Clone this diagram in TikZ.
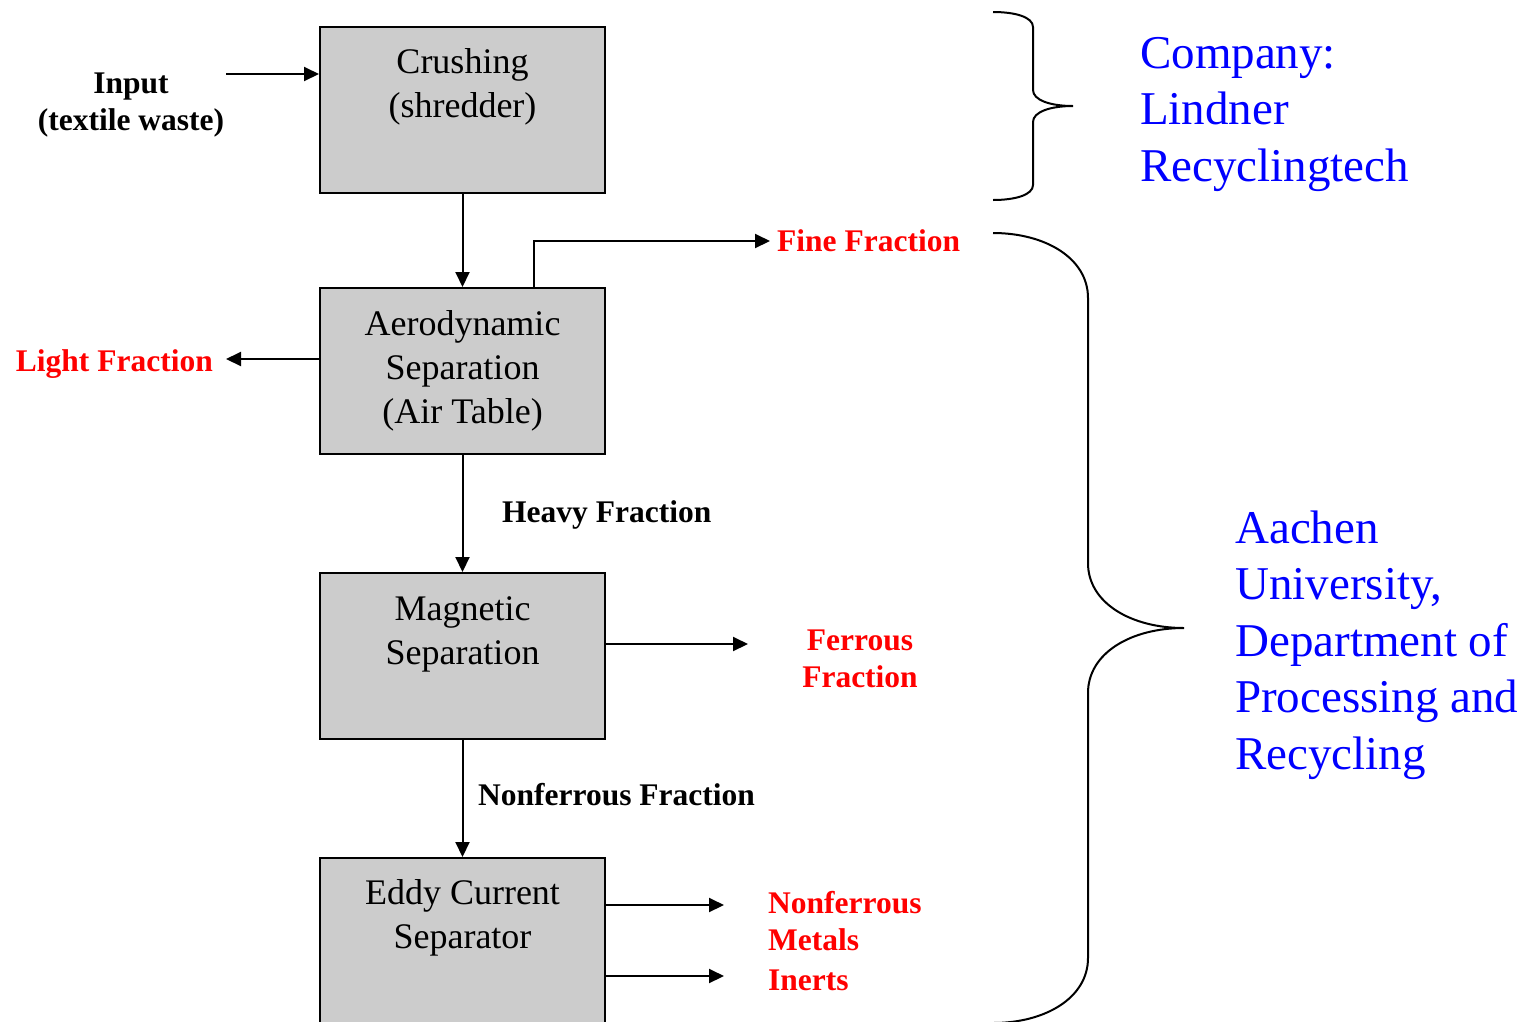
\documentclass[tikz,border=0pt]{standalone}
\usepackage{fontspec}
\setmainfont{Liberation Serif}
\usetikzlibrary{arrows.meta,calc}
\definecolor{boxgray}{HTML}{CCCCCC}
\definecolor{redlbl}{HTML}{FF0000}
\definecolor{bluelbl}{HTML}{0000FF}
\begin{document}
\begin{tikzpicture}[x=1pt,y=-1pt,
  box/.style={draw=black,line width=2pt,fill=boxgray,minimum width=285pt,minimum height=166pt,inner sep=0pt},
  boxtext/.style={font=\fontsize{36}{44}\selectfont,align=center,inner sep=0pt,anchor=base},
  lbl/.style={font=\bfseries\fontsize{31.5}{37}\selectfont,inner sep=0pt},
  redl/.style={lbl,text=redlbl},
  bluel/.style={font=\fontsize{47}{56.5}\selectfont,text=bluelbl,align=left,inner sep=0pt,anchor=base west},
  flow/.style={line width=2pt,-{Triangle[length=15pt,width=14pt]}},
  bracel/.style={line width=2pt}]
\useasboundingbox (0,0) rectangle (1526,1021);

% boxes
\node[box] (b1) at (462.5,110) {};
\node[box] (b2) at (462.5,371) {};
\node[box] (b3) at (462.5,656) {};
\node[box] (b4) at (462.5,941) {};

% multi-line nodes: base anchor = baseline of last line
\node[boxtext] (t1) at ($(b1.north)+(0,91)$) {Crushing\\(shredder)};
\node[boxtext] (t2) at ($(b2.north)+(0,136)$) {Aerodynamic\\Separation\\(Air Table)};
\node[boxtext] (t3) at ($(b3.north)+(0,92)$) {Magnetic\\Separation};
\node[boxtext] (t4) at ($(b4.north)+(0,91)$) {Eddy Current\\Separator};

% labels
\node[lbl,align=center,anchor=base] (inp) at (131,130) {Input\\(textile waste)};
\node[redl,anchor=base east] (light) at (213,371) {Light Fraction};
\node[redl,anchor=base west] (fine) at (777,251) {Fine Fraction};
\node[lbl,anchor=base west] (heavy) at (502,522) {Heavy Fraction};
\node[redl,align=center,anchor=base] (ferr) at (860,687) {Ferrous\\Fraction};
\node[lbl,anchor=base west] (nfrac) at (478,805) {Nonferrous Fraction};
\node[redl,align=left,anchor=base west] (nfm) at (768,950) {Nonferrous\\Metals};
\node[redl,anchor=base west] (inerts) at (768,990) {Inerts};

\node[bluel] (comp) at (1140,181) {Company:\\Lindner\\Recyclingtech};
\node[bluel] (univ) at (1235,769) {Aachen\\University,\\Department of\\Processing and\\Recycling};

% connectors
\coordinate (inA) at (226,74);
\draw[flow] (inA) -- (inA -| b1.west);
\draw[flow] (b1.south) -- (b2.north);
\coordinate (fineS) at (534,288);
\coordinate (fineE) at (770,241);
\draw[flow] (fineS) |- (fineE);
\coordinate (lightE) at (226,359);
\draw[flow] (lightE -| b2.west) -- (lightE);
\draw[flow] (b2.south) -- (b3.north);
\coordinate (ferrE) at (748,644);
\draw[flow] (ferrE -| b3.east) -- (ferrE);
\draw[flow] (b3.south) -- (b4.north);
\coordinate (nfmE) at (724,905);
\coordinate (inE) at (724,976);
\draw[flow] (nfmE -| b4.east) -- (nfmE);
\draw[flow] (inE -| b4.east) -- (inE);

% braces
\draw[bracel] (993,12) .. controls (1015,12) and (1033,17) .. (1033,27) -- (1033,90)
  .. controls (1033,100) and (1050,106) .. (1073,106)
  .. controls (1050,106) and (1033,112) .. (1033,122) -- (1033,185)
  .. controls (1033,195) and (1015,200) .. (993,200);
\draw[bracel] (993,233) .. controls (1045,233) and (1088,258) .. (1088,298) -- (1088,563)
  .. controls (1088,603) and (1131,628) .. (1184,628)
  .. controls (1131,628) and (1088,653) .. (1088,693) -- (1088,958)
  .. controls (1088,998) and (1045,1023) .. (993,1023);
\end{tikzpicture}
\end{document}
